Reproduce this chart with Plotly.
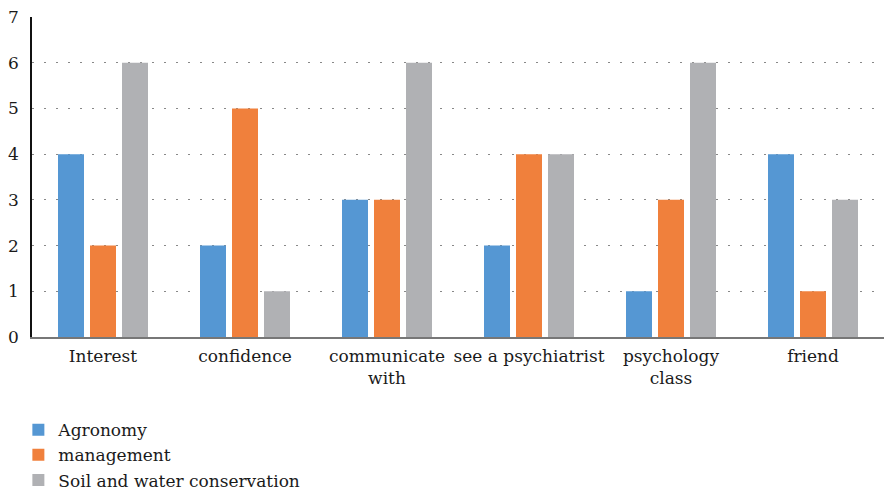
import plotly.graph_objects as go

categories = ["Interest", "confidence", "communicate<br>with", "see a psychiatrist",
              "psychology<br>class", "friend"]
agronomy = [4, 2, 3, 2, 1, 4]
management = [2, 5, 3, 4, 3, 1]
soil_water = [6, 1, 6, 4, 6, 3]

series = [
    ("Agronomy", agronomy, "#5597d3"),
    ("management", management, "#f0803c"),
    ("Soil and water conservation", soil_water, "#b0b1b4"),
]

FONT = "DejaVu Serif"
TXT = dict(family=FONT, size=17, color="#1a1a1a")

fig = go.Figure()
for name, vals, color in series:
    fig.add_trace(go.Bar(x=categories, y=vals, name=name,
                         marker=dict(color=color, line=dict(width=0))))

fig.update_layout(
    width=884, height=498,
    margin=dict(l=32, r=0, t=17, b=161, autoexpand=False),
    paper_bgcolor="white", plot_bgcolor="white",
    barmode="group", bargap=0.324, bargroupgap=0.1875,
    font=TXT,
    showlegend=True,
    legend=dict(orientation="v", x=-0.016, xanchor="left", y=-0.235, yanchor="top",
                font=TXT, itemwidth=30, bgcolor="rgba(0,0,0,0)"),
    xaxis=dict(showline=True, linecolor="#777", linewidth=1.5, ticks="",
               showgrid=False, tickfont=TXT, ticklabelstandoff=3),
    yaxis=dict(range=[0, 7], dtick=1, showline=True, linecolor="#111", linewidth=1.5,
               ticks="", showgrid=True, gridcolor="#888", griddash="2px,10px", gridwidth=1,
               zeroline=False, tickfont=TXT, ticklabelstandoff=8),
)

fig.write_html("out.html")
